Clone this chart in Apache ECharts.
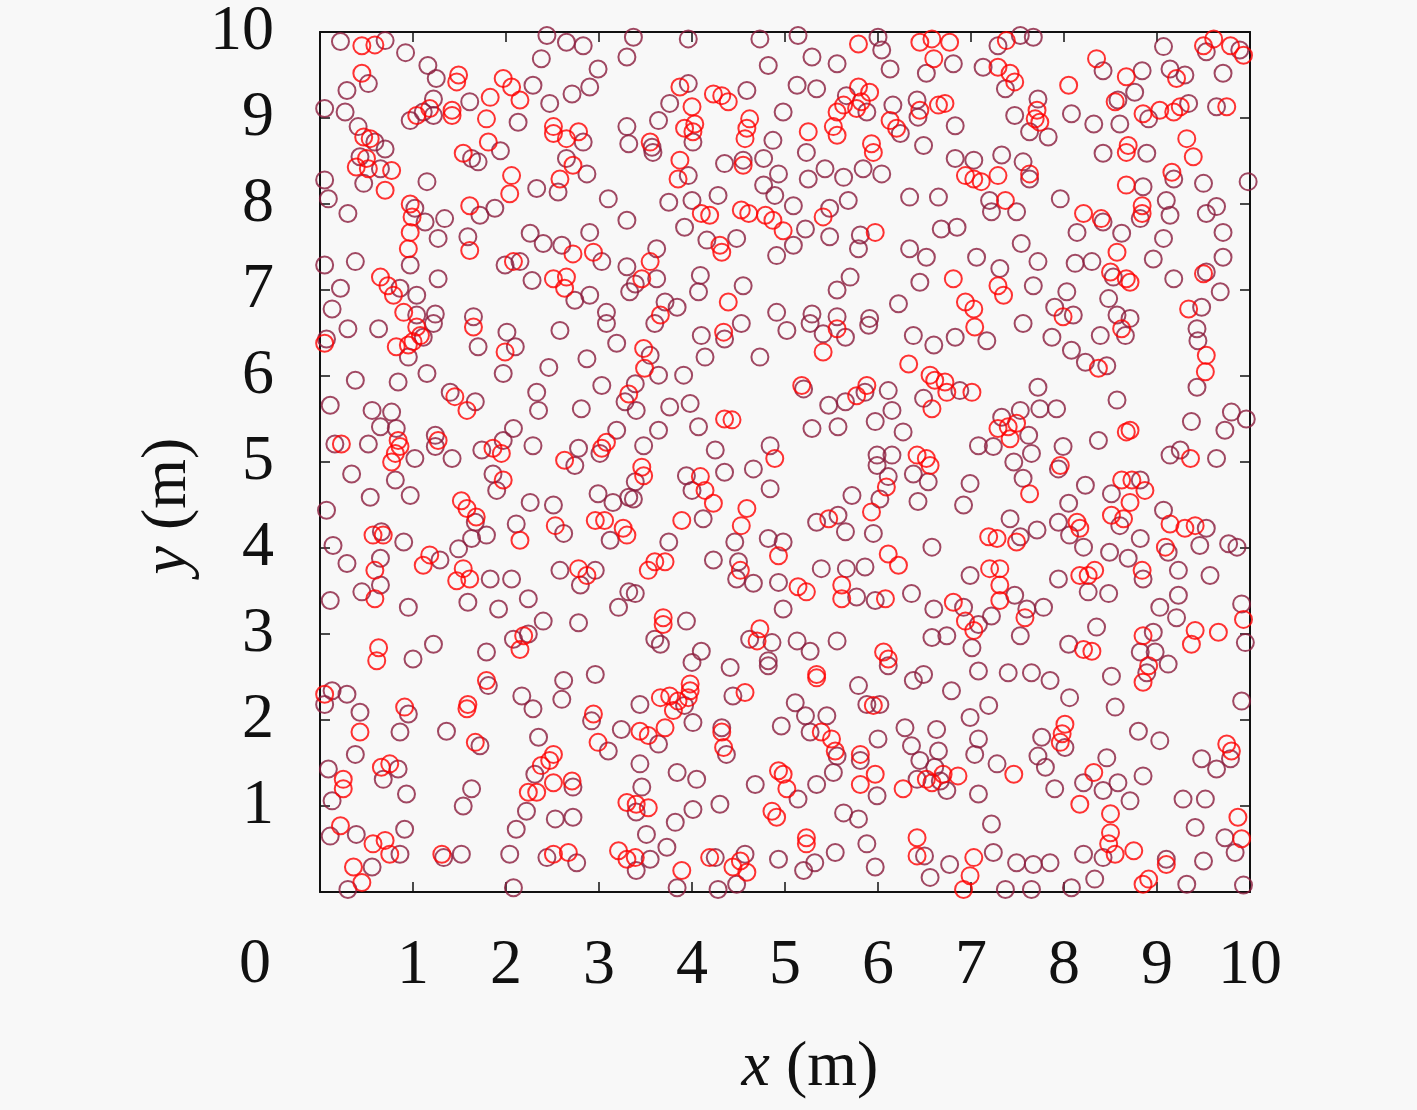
<!DOCTYPE html>
<html>
<head>
<meta charset="utf-8">
<script src="https://cdn.jsdelivr.net/npm/echarts@6/dist/echarts.min.js"></script>
<style>
  html, body { margin: 0; padding: 0; background: #f8f8f8; }
  #main { width: 1417px; height: 1110px; }
</style>
</head>
<body>
<div id="main"></div>
<script>
    // tick labels
    var xTicks = [0, 1, 2, 3, 4, 5, 6, 7, 8, 9, 10];
    var yTicks = [0, 1, 2, 3, 4, 5, 6, 7, 8, 9, 10];

    // dark rings (y 6.7-10, 3.3-6.7, 0-3.3)
    var darkTop = [
        [0.22,9.89],[0.70,9.90],[0.92,9.76],[1.16,9.61],[1.25,9.46],[0.52,9.40],[0.29,9.32],[0.27,9.07],[0.41,8.90],[0.59,8.72],[0.70,8.64],[0.43,8.55],[0.65,8.41],[0.47,8.24],[0.97,8.97],[1.11,9.07],[1.22,9.03],[1.22,9.22],[1.61,9.19],[1.94,8.62],[2.13,8.95],[2.29,9.38],[1.63,8.53],[1.70,8.49],[2.33,8.18],[2.47,9.17],[2.83,8.72],[2.71,9.28],[2.90,9.36],[2.99,9.57],[2.38,9.69],[2.65,9.88],[2.83,9.84],[2.44,9.96],[3.30,9.71],[3.30,8.90],[3.32,8.70],[2.65,8.53],[2.56,8.14],[2.87,8.35],[3.10,8.06],[3.30,7.81],[0.05,9.11],[0.05,8.28],[0.09,8.06],[0.30,7.89],[1.02,7.95],[1.15,8.26],[1.13,7.79],[1.34,7.83],[0.97,7.29],[1.27,7.60],[1.72,7.87],[1.88,7.95],[1.59,7.62],[1.99,7.29],[2.15,7.33],[2.28,7.11],[2.26,7.66],[2.40,7.54],[2.60,7.52],[2.90,7.67],[3.03,7.33],[2.74,6.88],[2.90,6.94],[0.38,7.33],[0.05,7.29],[0.86,7.02],[1.04,6.94],[0.22,7.02],[0.13,6.78],[1.04,6.71],[1.24,6.72],[1.27,7.13],[1.65,6.69],[3.08,6.74],[3.30,7.27],[3.33,6.98],
        [3.37,9.94],[3.96,9.92],[4.73,9.92],[5.14,9.96],[5.29,9.71],[5.56,9.63],[6.04,9.79],[6.00,9.94],[6.13,9.57],[6.52,9.52],[4.82,9.61],[5.13,9.38],[5.34,9.34],[3.96,9.40],[3.76,9.17],[4.59,9.32],[4.98,9.07],[3.64,8.97],[3.57,8.66],[3.58,8.60],[4.01,8.72],[4.55,8.51],[4.87,8.74],[3.96,8.33],[4.35,8.47],[4.77,8.53],[4.77,8.22],[4.93,8.35],[4.89,8.10],[5.23,8.60],[5.66,9.26],[5.88,9.07],[6.16,9.15],[6.24,8.82],[6.42,9.21],[6.43,9.01],[5.84,8.41],[6.04,8.35],[5.43,8.41],[5.25,8.29],[5.63,8.31],[6.49,8.68],[6.34,8.08],[6.65,8.08],[3.75,8.02],[4.00,8.04],[4.28,8.10],[5.09,7.98],[5.22,7.71],[5.48,7.95],[5.68,8.04],[3.92,7.73],[4.16,7.58],[4.48,7.60],[4.91,7.40],[5.09,7.52],[5.48,7.62],[5.81,7.64],[5.79,7.48],[6.34,7.48],[6.52,7.38],[3.62,7.48],[3.62,7.13],[3.39,7.07],[4.09,7.17],[4.07,6.98],[4.55,7.05],[3.71,6.86],[3.84,6.80],[4.91,6.74],[5.29,6.72],[5.56,6.69],[5.91,6.67],[5.70,7.15],[5.56,7.00],[6.45,7.09],[6.22,6.84],
        [6.81,9.63],[7.29,9.84],[7.53,9.96],[7.67,9.94],[7.13,9.59],[7.37,9.34],[6.83,8.91],[7.47,9.03],[7.72,9.22],[7.63,8.84],[7.83,8.78],[8.08,9.05],[8.32,8.93],[8.42,9.55],[8.84,9.55],[8.76,9.30],[8.58,9.21],[8.60,8.93],[8.91,8.99],[9.34,9.17],[8.89,8.59],[8.42,8.59],[9.07,9.83],[9.14,9.57],[9.30,9.50],[9.53,9.77],[9.89,9.79],[9.71,9.52],[9.64,9.13],[9.18,8.29],[9.50,8.24],[9.98,8.26],[6.83,8.53],[7.03,8.51],[7.33,8.57],[7.56,8.49],[7.63,8.29],[7.20,8.04],[7.22,7.91],[7.49,7.91],[7.96,8.06],[8.85,8.20],[8.82,7.83],[8.42,7.79],[8.14,7.67],[8.62,7.66],[9.10,8.04],[9.14,7.87],[9.07,7.60],[9.53,7.89],[9.64,7.97],[9.71,7.67],[9.71,7.38],[6.68,7.71],[6.85,7.73],[7.54,7.54],[7.06,7.38],[7.31,7.25],[7.72,7.33],[7.67,7.05],[8.12,7.31],[8.30,7.33],[8.53,7.15],[8.96,7.36],[9.18,7.13],[9.53,7.21],[9.68,6.98],[8.03,6.98],[7.90,6.80],[8.10,6.71],[8.48,6.90],[8.57,6.71],[8.71,6.67],[9.48,6.80]
    ];
    var darkMid = [
        [0.30,6.55],[0.63,6.55],[1.22,6.61],[0.07,6.43],[1.11,6.45],[0.95,6.22],[1.70,6.34],[2.01,6.51],[2.10,6.34],[1.97,6.03],[2.58,6.53],[3.08,6.61],[3.19,6.38],[0.38,5.95],[0.84,5.93],[1.15,6.03],[2.46,6.10],[2.87,6.20],[3.03,5.89],[1.40,5.81],[1.67,5.70],[2.33,5.81],[2.35,5.60],[2.81,5.62],[3.28,5.70],[0.11,5.66],[0.56,5.60],[0.77,5.58],[0.16,5.21],[0.52,5.21],[0.65,5.41],[0.82,5.39],[1.02,5.04],[1.24,5.31],[1.24,5.18],[1.42,5.04],[1.74,5.14],[1.97,5.25],[2.08,5.39],[1.86,4.86],[1.90,4.67],[2.29,5.19],[3.19,5.37],[3.01,5.10],[2.78,5.16],[2.74,4.96],[0.34,4.86],[0.81,4.79],[0.97,4.61],[0.54,4.59],[0.07,4.44],[1.67,4.30],[1.79,4.15],[1.63,4.11],[2.11,4.28],[2.26,4.53],[2.51,4.50],[2.62,4.17],[2.99,4.63],[3.15,4.53],[3.12,4.09],[3.32,4.59],[0.14,4.03],[0.29,3.82],[0.66,4.19],[0.90,4.07],[0.65,3.88],[0.65,3.57],[0.45,3.49],[0.11,3.39],[0.95,3.31],[1.29,3.86],[1.49,3.99],[1.83,3.64],[2.06,3.64],[1.59,3.37],[1.92,3.29],[2.24,3.41],[2.58,3.74],[2.96,3.74],[2.80,3.57],[3.21,3.31],[3.32,3.49],
        [3.60,6.61],[4.10,6.47],[4.35,6.43],[4.53,6.61],[3.55,6.24],[3.64,6.01],[3.39,5.91],[4.14,6.22],[4.73,6.22],[5.02,6.53],[5.27,6.61],[5.41,6.49],[5.65,6.45],[5.90,6.59],[6.38,6.47],[6.60,6.36],[6.49,5.74],[3.91,6.01],[5.20,5.85],[5.47,5.66],[5.65,5.70],[5.86,5.81],[6.11,5.83],[6.15,5.60],[5.97,5.47],[6.27,5.35],[3.76,5.64],[3.98,5.68],[3.40,5.60],[4.07,5.41],[5.29,5.39],[5.57,5.41],[3.64,5.37],[3.48,5.19],[4.25,5.14],[4.84,5.19],[5.99,5.08],[6.15,5.08],[5.99,4.96],[6.11,4.83],[6.02,4.57],[6.38,4.86],[6.54,4.77],[6.43,4.54],[3.39,4.77],[3.37,4.57],[3.94,4.84],[4.00,4.67],[4.35,4.88],[4.66,4.92],[4.84,4.69],[4.46,4.07],[4.12,4.34],[5.72,4.61],[5.34,4.30],[5.57,4.38],[5.65,4.19],[5.95,4.17],[3.75,4.07],[4.23,3.86],[4.82,4.11],[4.98,4.07],[4.50,3.84],[4.48,3.64],[4.66,3.59],[4.93,3.60],[5.39,3.76],[5.66,3.76],[5.86,3.78],[6.58,4.01],[5.77,3.43],[5.97,3.39],[6.36,3.47],[3.39,3.47],[4.98,3.29],[6.60,3.29],
        [6.83,6.45],[7.17,6.41],[7.56,6.61],[7.87,6.45],[8.08,6.30],[8.23,6.16],[8.46,6.12],[8.39,6.47],[8.66,6.47],[9.43,6.55],[9.44,6.41],[9.43,5.87],[6.88,5.83],[7.72,5.87],[7.74,5.62],[7.92,5.62],[8.57,5.72],[7.33,5.52],[7.53,5.60],[7.62,5.31],[7.08,5.19],[7.24,5.18],[7.65,5.10],[7.46,5.00],[7.56,4.81],[7.99,5.18],[7.94,4.92],[8.37,5.25],[9.37,5.47],[9.80,5.58],[9.96,5.50],[9.73,5.37],[9.14,5.08],[9.25,5.14],[9.64,5.04],[6.99,4.75],[6.92,4.50],[8.23,4.73],[8.05,4.52],[8.51,4.63],[8.60,4.26],[8.82,4.79],[9.07,4.44],[9.53,4.23],[9.46,4.03],[7.42,4.34],[7.71,4.21],[7.53,4.13],[7.94,4.30],[8.06,4.15],[8.21,4.01],[8.49,3.95],[8.69,3.88],[8.82,4.11],[9.12,3.95],[9.23,3.74],[9.77,4.05],[9.86,4.01],[6.99,3.68],[7.47,3.45],[6.92,3.31],[7.94,3.64],[8.26,3.49],[8.48,3.47],[8.85,3.64],[9.57,3.68],[9.23,3.45],[9.03,3.31],[9.91,3.35],[7.78,3.31],[7.60,3.29]
    ];
    var darkLow = [
        [2.40,3.15],[2.78,3.13],[1.00,2.71],[1.22,2.88],[1.79,2.79],[2.08,2.94],[2.24,3.00],[1.81,2.40],[2.62,2.46],[2.60,2.24],[2.96,2.53],[0.13,2.34],[0.29,2.30],[0.05,2.18],[0.43,2.09],[0.38,1.60],[0.95,2.07],[0.86,1.86],[1.36,1.87],[2.17,2.28],[2.29,2.13],[2.92,1.99],[3.24,1.89],[1.72,1.70],[2.35,1.80],[3.10,1.64],[2.31,1.37],[2.72,1.22],[2.22,0.94],[0.09,1.43],[0.13,1.06],[0.84,1.43],[0.68,1.31],[0.93,1.14],[1.63,1.20],[1.54,1.00],[2.11,0.73],[2.53,0.85],[2.72,0.87],[0.11,0.65],[0.39,0.67],[0.86,0.44],[0.91,0.73],[0.56,0.29],[0.30,0.03],[1.33,0.40],[1.52,0.44],[2.04,0.44],[2.44,0.40],[2.76,0.34],[2.08,0.05],
        [3.60,2.94],[3.66,2.88],[3.94,3.15],[4.62,2.94],[4.86,2.90],[4.82,2.69],[4.82,2.63],[5.13,2.92],[5.27,2.80],[5.56,2.92],[4.10,2.80],[4.00,2.67],[4.41,2.61],[4.44,2.28],[6.11,2.63],[6.38,2.46],[6.49,2.53],[6.58,2.96],[3.44,2.18],[3.92,2.17],[4.01,1.97],[3.64,1.72],[4.32,1.91],[4.37,1.60],[4.96,1.93],[5.11,2.20],[5.22,2.05],[5.27,1.86],[5.45,2.05],[5.56,1.58],[5.52,1.39],[5.79,2.40],[5.88,2.18],[6.02,2.18],[6.00,1.78],[6.29,1.91],[6.36,1.70],[6.45,1.53],[6.63,1.89],[6.65,1.64],[6.61,1.45],[5.81,1.53],[5.99,1.12],[6.42,1.31],[6.67,1.29],[3.44,1.49],[3.84,1.39],[4.05,1.31],[4.68,1.25],[5.14,1.08],[5.34,1.25],[3.46,1.22],[3.40,0.93],[4.30,1.02],[4.01,0.96],[3.82,0.81],[5.63,0.92],[5.79,0.85],[3.51,0.67],[3.73,0.52],[5.32,0.34],[5.20,0.25],[5.54,0.46],[5.88,0.56],[5.97,0.29],[6.50,0.42],[6.56,0.17],[3.55,0.38],[3.40,0.25],[3.84,0.05],[4.25,0.40],[4.57,0.44],[4.48,0.09],[4.28,0.03],[4.93,0.38],
        [6.74,2.98],[7.08,3.11],[7.01,2.84],[7.22,3.21],[7.53,2.98],[8.05,2.88],[8.35,3.08],[8.96,3.02],[8.82,2.79],[8.98,2.79],[8.89,2.55],[9.12,2.65],[9.21,3.19],[9.95,2.90],[7.08,2.57],[7.40,2.55],[7.65,2.55],[7.85,2.46],[8.51,2.51],[6.79,2.34],[8.06,2.26],[7.19,2.17],[6.99,2.03],[8.55,2.15],[9.91,2.22],[7.08,1.78],[7.04,1.60],[7.76,1.80],[8.01,1.68],[7.72,1.58],[7.80,1.45],[8.80,1.87],[9.03,1.76],[8.46,1.56],[8.21,1.27],[8.58,1.27],[8.42,1.18],[8.71,1.06],[9.79,1.55],[9.48,1.55],[9.64,1.43],[6.74,1.18],[7.28,1.49],[7.08,1.14],[7.90,1.20],[9.28,1.08],[9.52,1.08],[8.42,0.40],[8.21,0.44],[7.22,0.79],[9.41,0.75],[9.73,0.63],[9.84,0.46],[6.77,0.32],[7.24,0.46],[7.49,0.34],[7.67,0.32],[7.85,0.34],[7.37,0.03],[7.65,0.03],[8.08,0.05],[8.33,0.15],[9.10,0.38],[9.50,0.36],[9.32,0.09],[9.93,0.08],[8.85,1.35]
    ];

    // red rings
    var redTop = [
        [0.45,9.84],[0.59,9.85],[1.49,9.50],[1.47,9.42],[0.45,9.52],[0.47,8.78],[0.54,8.76],[0.50,8.53],[0.39,8.43],[0.52,8.41],[0.77,8.39],[0.70,8.16],[1.04,9.03],[1.18,9.11],[1.42,9.09],[1.42,9.03],[1.83,9.24],[1.79,8.99],[1.81,8.72],[1.97,9.46],[2.06,9.36],[2.15,9.21],[1.54,8.59],[2.06,8.33],[2.04,8.12],[2.51,8.90],[2.51,8.82],[2.65,8.76],[2.78,8.84],[2.72,8.45],[2.58,8.29],[0.97,8.00],[0.99,7.85],[0.97,7.67],[0.95,7.48],[1.61,7.98],[1.61,7.46],[2.08,7.33],[2.72,7.42],[2.94,7.44],[2.51,7.13],[2.65,7.15],[2.63,7.02],[0.65,7.15],[0.73,7.05],[0.79,6.94],[0.90,6.74],
        [5.79,9.86],[6.45,9.88],[6.58,9.92],[6.60,9.69],[3.87,9.36],[4.00,9.13],[4.23,9.28],[4.32,9.26],[4.39,9.19],[3.55,8.72],[3.92,8.88],[4.01,8.84],[4.03,8.93],[4.62,8.99],[4.59,8.88],[4.57,8.76],[4.55,8.45],[3.87,8.51],[3.85,8.29],[5.25,8.84],[5.56,9.07],[5.63,9.15],[5.52,8.90],[5.56,8.80],[5.79,9.36],[5.91,9.30],[5.77,9.11],[5.82,9.19],[6.13,8.97],[6.20,8.88],[6.45,9.09],[6.65,9.15],[5.93,8.70],[5.95,8.60],[4.10,7.89],[4.19,7.87],[4.53,7.93],[4.61,7.89],[4.79,7.87],[4.87,7.81],[4.98,7.69],[5.41,7.85],[4.30,7.52],[4.32,7.44],[5.97,7.67],[3.55,7.33],[3.46,7.13],[4.39,6.86],[3.66,6.71],
        [6.77,9.88],[7.38,9.90],[7.29,9.59],[7.42,9.52],[7.47,9.42],[6.72,9.17],[7.71,9.09],[7.69,8.99],[7.74,8.95],[8.05,9.38],[8.35,9.69],[8.67,9.48],[8.55,9.19],[8.85,9.05],[9.03,9.09],[9.18,9.07],[9.25,9.13],[8.69,8.68],[8.67,8.60],[9.21,9.46],[9.50,9.84],[9.61,9.92],[9.79,9.84],[9.93,9.73],[9.75,9.13],[9.32,8.76],[9.39,8.55],[9.16,8.37],[6.94,8.33],[7.03,8.29],[7.11,8.26],[7.29,8.33],[7.63,8.35],[7.37,8.04],[8.67,8.22],[8.84,7.98],[8.84,7.89],[8.21,7.89],[8.40,7.83],[7.29,7.05],[7.35,6.94],[8.57,7.44],[8.50,7.21],[8.67,7.13],[8.71,7.09],[9.50,7.19],[6.81,7.13],[6.94,6.86],[7.03,6.78],[7.99,6.69],[9.34,6.78]
    ];
    var redMid = [
        [1.04,6.57],[1.08,6.47],[0.05,6.38],[0.82,6.34],[0.95,6.36],[1.00,6.40],[1.65,6.57],[1.99,6.28],[1.45,5.76],[1.58,5.60],[3.32,5.79],[0.23,5.21],[0.84,5.25],[0.86,5.18],[0.81,5.10],[0.77,5.00],[1.27,5.25],[1.86,5.16],[1.95,5.10],[1.97,4.79],[3.03,5.16],[2.63,5.02],[3.08,5.23],[1.52,4.55],[1.58,4.46],[1.68,4.36],[2.15,4.09],[2.53,4.26],[2.96,4.32],[3.06,4.32],[3.26,4.23],[3.30,4.15],[0.57,4.15],[0.68,4.15],[0.59,3.74],[0.59,3.41],[1.18,3.92],[1.11,3.80],[1.54,3.76],[1.47,3.62],[1.61,3.64],[2.78,3.76],[2.87,3.68],
        [4.34,6.51],[3.48,6.32],[3.49,6.09],[5.41,6.28],[5.56,6.55],[6.33,6.14],[6.56,6.01],[6.61,5.95],[6.58,5.62],[5.18,5.89],[5.77,5.77],[5.88,5.89],[4.35,5.50],[4.43,5.49],[4.89,5.04],[6.09,4.71],[6.42,5.08],[6.52,5.04],[6.56,4.96],[3.46,4.94],[3.48,4.84],[4.09,4.83],[4.14,4.67],[4.23,4.52],[4.59,4.46],[4.53,4.26],[3.89,4.32],[5.47,4.34],[5.93,4.42],[3.60,3.84],[3.53,3.74],[3.71,3.84],[4.93,3.91],[4.52,3.74],[5.14,3.55],[5.23,3.49],[6.11,3.93],[6.22,3.80],[5.61,3.57],[5.61,3.41],[6.08,3.41],
        [7.04,6.57],[8.37,6.09],[8.62,6.55],[9.53,6.24],[9.52,6.05],[6.72,5.93],[6.74,5.81],[7.01,5.81],[7.29,5.39],[7.40,5.41],[7.42,5.27],[7.49,5.45],[7.63,4.63],[7.96,4.96],[8.67,5.35],[8.71,5.37],[9.36,5.04],[8.62,4.79],[8.73,4.79],[8.87,4.67],[8.71,4.53],[8.51,4.38],[8.64,4.34],[9.14,4.28],[9.30,4.23],[9.41,4.26],[7.19,4.13],[7.28,4.11],[7.49,4.07],[8.14,4.30],[8.17,4.23],[9.09,4.01],[7.20,3.76],[7.31,3.76],[7.31,3.57],[7.31,3.39],[6.81,3.37],[8.17,3.68],[8.26,3.68],[8.33,3.74],[8.84,3.74]
    ];
    var redLow = [
        [0.63,2.84],[0.61,2.69],[2.19,2.98],[2.15,2.82],[1.79,2.46],[0.05,2.30],[0.43,1.86],[0.91,2.15],[1.59,2.18],[1.58,2.13],[2.94,2.07],[1.67,1.74],[2.99,1.74],[2.51,1.60],[2.47,1.53],[2.38,1.47],[2.51,1.27],[2.71,1.29],[2.24,1.16],[2.33,1.16],[0.25,1.31],[0.25,1.20],[0.66,1.45],[0.75,1.49],[3.30,1.04],[0.22,0.77],[0.57,0.56],[0.70,0.60],[0.75,0.44],[0.36,0.29],[0.45,0.11],[1.31,0.44],[2.51,0.44],[2.67,0.46],[3.21,0.48],[3.30,0.38],
        [3.69,3.19],[3.69,3.11],[4.73,3.06],[4.70,2.92],[3.98,2.42],[3.98,2.34],[4.57,2.32],[5.34,2.53],[5.34,2.49],[6.06,2.79],[6.11,2.71],[3.66,2.26],[3.76,2.28],[3.85,2.22],[3.96,2.26],[3.80,2.11],[3.71,1.91],[3.44,1.87],[3.53,1.82],[4.32,1.86],[4.34,1.68],[5.39,1.86],[5.50,1.78],[5.54,1.64],[5.95,2.17],[5.81,1.60],[5.97,1.37],[5.81,1.25],[6.27,1.20],[6.52,1.31],[6.58,1.27],[4.93,1.41],[4.98,1.37],[5.02,1.20],[3.40,1.02],[3.53,0.98],[4.86,0.94],[4.91,0.87],[5.23,0.63],[5.23,0.56],[6.42,0.63],[6.42,0.42],[3.39,0.40],[3.89,0.25],[4.19,0.40],[4.44,0.29],[4.52,0.36],[4.59,0.23],
        [6.94,3.15],[7.03,3.04],[7.58,3.19],[8.21,2.82],[8.30,2.80],[8.85,2.98],[8.91,2.63],[8.85,2.44],[9.41,3.04],[9.37,2.88],[9.66,3.02],[9.93,3.17],[8.01,1.95],[7.98,1.84],[7.96,1.74],[8.32,1.39],[8.17,1.02],[9.75,1.72],[9.80,1.64],[6.70,1.37],[6.86,1.35],[7.46,1.37],[8.50,0.91],[8.50,0.69],[8.48,0.56],[8.55,0.44],[8.75,0.48],[9.87,0.87],[9.91,0.62],[7.03,0.40],[6.99,0.19],[6.92,0.03],[8.85,0.09],[8.91,0.15],[9.10,0.32]
    ];

    var darkRings = darkTop.concat(darkMid, darkLow);
    var redRings = redTop.concat(redMid, redLow);

    var serif = 'Liberation Serif';
    var labelSize = 64;

    var myChart = echarts.init(document.getElementById('main'));

    function axisBase(show) {
        return {
            type: 'value',
            min: 0,
            max: 10,
            interval: 1,
            axisLine: {show: true, onZero: false, lineStyle: {color: '#111', width: 2}},
            axisTick: {show: true, inside: true, length: 10, lineStyle: {color: '#111', width: 1.5}},
            splitLine: {show: false},
            axisLabel: {
                show: show,
                fontFamily: serif,
                fontSize: labelSize,
                color: '#111',
                showMinLabel: false
            }
        };
    }

    var xBottom = axisBase(true);
    xBottom.position = 'bottom';
    xBottom.axisLabel.margin = 42;
    var xTop = axisBase(false);
    xTop.position = 'top';

    var yLeft = axisBase(true);
    yLeft.position = 'left';
    yLeft.axisLabel.margin = 46;
    var yRight = axisBase(false);
    yRight.position = 'right';

    var option = {
        backgroundColor: '#f8f8f8',
        animation: false,
        grid: {left: 320, right: 167, top: 30, bottom: 218},
        xAxis: [xBottom, xTop],
        yAxis: [yLeft, yRight],
        graphic: [
            {
                type: 'text',
                left: 257 - 18,
                top: 967 - 34,
                style: {text: String(xTicks[0]), font: labelSize + 'px "' + serif + '"', fill: '#111'}
            },
            {
                type: 'text',
                x: 810,
                y: 1068,
                style: {
                    text: '{i|x} (m)',
                    font: labelSize + 'px "' + serif + '"',
                    fill: '#111',
                    align: 'center',
                    verticalAlign: 'middle',
                    rich: {i: {fontStyle: 'italic', fontFamily: serif, fontSize: labelSize}}
                }
            },
            {
                type: 'text',
                x: 168,
                y: 506,
                rotation: Math.PI / 2,
                style: {
                    text: '{i|y} (m)',
                    font: labelSize + 'px "' + serif + '"',
                    fill: '#111',
                    align: 'center',
                    verticalAlign: 'middle',
                    rich: {i: {fontStyle: 'italic', fontFamily: serif, fontSize: labelSize}}
                }
            }
        ],
        series: [
            {
                name: 'dark',
                type: 'scatter',
                symbol: 'circle',
                symbolSize: 17,
                silent: true,
                itemStyle: {color: 'rgba(0,0,0,0)', borderColor: '#8a1c3c', borderWidth: 2},
                data: darkRings
            },
            {
                name: 'red',
                type: 'scatter',
                symbol: 'circle',
                symbolSize: 17,
                silent: true,
                itemStyle: {color: 'rgba(0,0,0,0)', borderColor: '#ff0000', borderWidth: 2},
                data: redRings
            }
        ]
    };

    myChart.setOption(option);
</script>
</body>
</html>
